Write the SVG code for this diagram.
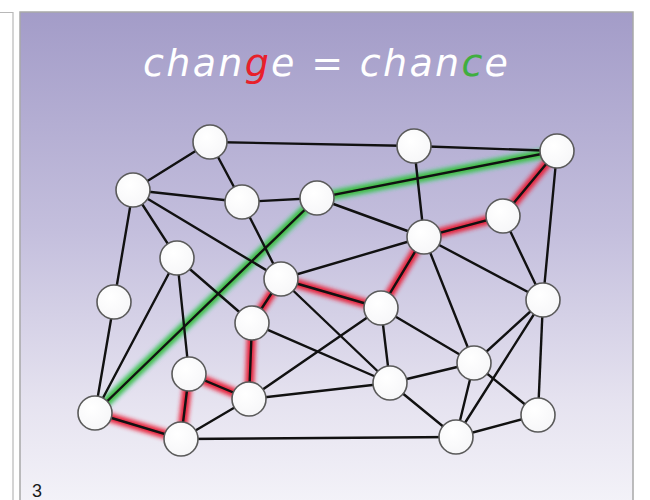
<svg xmlns="http://www.w3.org/2000/svg" width="650" height="500" viewBox="0 0 650 500">
<defs>
<linearGradient id="bg" x1="0" y1="0" x2="0" y2="1">
<stop offset="0" stop-color="#a39cc8"/>
<stop offset="0.45" stop-color="#c4bfdd"/>
<stop offset="0.8" stop-color="#e6e3f0"/>
<stop offset="1" stop-color="#f3f2f8"/>
</linearGradient>
<radialGradient id="ng" cx="0.4" cy="0.35" r="0.7">
<stop offset="0" stop-color="#ffffff"/>
<stop offset="1" stop-color="#f6f6f8"/>
</radialGradient>
<filter id="blur" x="-20%" y="-20%" width="140%" height="140%">
<feGaussianBlur stdDeviation="2"/>
</filter>
</defs>
<style>
.e{stroke:#111;stroke-width:2.4;fill:none;stroke-linecap:round}
.gr{stroke:#e8233a;stroke-width:9;fill:none;filter:url(#blur)}
.gg{stroke:#3cbc3c;stroke-width:8;fill:none;filter:url(#blur)}
.ggc{stroke:#6fd2b8;stroke-width:11;fill:none;filter:url(#blur);opacity:0.6}
.n circle{fill:url(#ng);stroke:#5a5a5a;stroke-width:1.6}
.t{font-family:"DejaVu Sans","Open Sans",sans-serif;font-style:italic;font-weight:200;font-size:38px;fill:#ffffff}
</style>
<rect x="0" y="0" width="650" height="500" fill="#ffffff"/>
<path d="M0 12.5 H13 V500" fill="none" stroke="#b8b8b8" stroke-width="1.2"/>
<rect x="20" y="12" width="613" height="490" fill="url(#bg)" stroke="#a8a8a8" stroke-width="1.5"/>
<text class="t" x="143" y="76" textLength="365" lengthAdjust="spacing">chan<tspan fill="#e8202a">g</tspan>e = chan<tspan fill="#3fae3f">c</tspan>e</text>
<text x="32" y="497" font-family="Liberation Sans, Arial, sans-serif" font-size="18" fill="#1a1a1a">3</text>
<g id="connectors">
<g id="glow">
<polyline class="ggc" points="95,413 317,198 557,151"/>
<polyline class="gg" points="95,413 317,198 557,151"/>
<polyline class="gr" points="95,413 181,439 189,374 249,399 252,323 281,279 381,308 424,237 503,216 557,151"/>
</g>
<g id="edges">
<line class="e" x1="210" y1="142" x2="414" y2="146"/>
<line class="e" x1="210" y1="142" x2="133" y2="190"/>
<line class="e" x1="210" y1="142" x2="242" y2="202"/>
<line class="e" x1="133" y1="190" x2="242" y2="202"/>
<line class="e" x1="242" y1="202" x2="317" y2="198"/>
<line class="e" x1="133" y1="190" x2="114" y2="302"/>
<line class="e" x1="133" y1="190" x2="177" y2="258"/>
<line class="e" x1="133" y1="190" x2="281" y2="279"/>
<line class="e" x1="242" y1="202" x2="281" y2="279"/>
<line class="e" x1="317" y1="198" x2="424" y2="237"/>
<line class="e" x1="281" y1="279" x2="424" y2="237"/>
<line class="e" x1="414" y1="146" x2="557" y2="151"/>
<line class="e" x1="414" y1="146" x2="424" y2="237"/>
<line class="e" x1="557" y1="151" x2="543" y2="300"/>
<line class="e" x1="503" y1="216" x2="543" y2="300"/>
<line class="e" x1="424" y1="237" x2="543" y2="300"/>
<line class="e" x1="424" y1="237" x2="474" y2="363"/>
<line class="e" x1="114" y1="302" x2="95" y2="413"/>
<line class="e" x1="177" y1="258" x2="95" y2="413"/>
<line class="e" x1="177" y1="258" x2="189" y2="374"/>
<line class="e" x1="177" y1="258" x2="252" y2="323"/>
<line class="e" x1="252" y1="323" x2="390" y2="383"/>
<line class="e" x1="281" y1="279" x2="390" y2="383"/>
<line class="e" x1="249" y1="399" x2="381" y2="308"/>
<line class="e" x1="249" y1="399" x2="390" y2="383"/>
<line class="e" x1="249" y1="399" x2="181" y2="439"/>
<line class="e" x1="181" y1="439" x2="456" y2="437"/>
<line class="e" x1="381" y1="308" x2="474" y2="363"/>
<line class="e" x1="381" y1="308" x2="390" y2="383"/>
<line class="e" x1="543" y1="300" x2="474" y2="363"/>
<line class="e" x1="543" y1="300" x2="456" y2="437"/>
<line class="e" x1="543" y1="300" x2="538" y2="415"/>
<line class="e" x1="474" y1="363" x2="538" y2="415"/>
<line class="e" x1="474" y1="363" x2="456" y2="437"/>
<line class="e" x1="390" y1="383" x2="456" y2="437"/>
<line class="e" x1="538" y1="415" x2="456" y2="437"/>
<line class="e" x1="390" y1="383" x2="474" y2="363"/>
<polyline class="e" points="95,413 317,198 557,151"/>
<polyline class="e" points="95,413 181,439 189,374 249,399 252,323 281,279 381,308 424,237 503,216 557,151"/>
</g>
</g>
<g id="nodes" class="n">
<g id="nA"><circle cx="210" cy="142" r="17"/></g>
<g id="nB"><circle cx="133" cy="190" r="17"/></g>
<g id="nC"><circle cx="242" cy="202" r="17"/></g>
<g id="nD"><circle cx="317" cy="198" r="17"/></g>
<g id="nE"><circle cx="177" cy="258" r="17"/></g>
<g id="nF"><circle cx="281" cy="279" r="17"/></g>
<g id="nG"><circle cx="114" cy="302" r="17"/></g>
<g id="nH"><circle cx="252" cy="323" r="17"/></g>
<g id="nI"><circle cx="189" cy="374" r="17"/></g>
<g id="nJ"><circle cx="249" cy="399" r="17"/></g>
<g id="nK"><circle cx="95" cy="413" r="17"/></g>
<g id="nL"><circle cx="181" cy="439" r="17"/></g>
<g id="nM"><circle cx="414" cy="146" r="17"/></g>
<g id="nN"><circle cx="557" cy="151" r="17"/></g>
<g id="nO"><circle cx="424" cy="237" r="17"/></g>
<g id="nP"><circle cx="503" cy="216" r="17"/></g>
<g id="nQ"><circle cx="381" cy="308" r="17"/></g>
<g id="nR"><circle cx="543" cy="300" r="17"/></g>
<g id="nS"><circle cx="474" cy="363" r="17"/></g>
<g id="nT"><circle cx="390" cy="383" r="17"/></g>
<g id="nU"><circle cx="538" cy="415" r="17"/></g>
<g id="nV"><circle cx="456" cy="437" r="17"/></g>
</g>
</svg>
